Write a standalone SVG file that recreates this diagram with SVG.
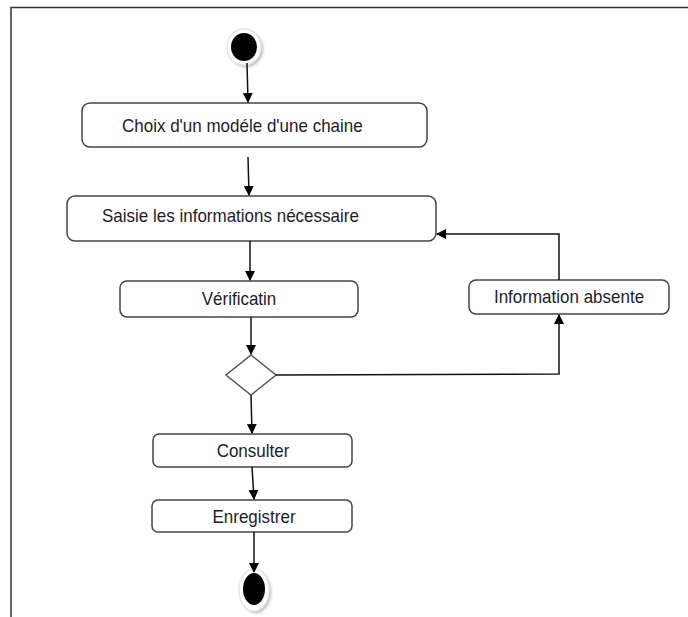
<svg xmlns="http://www.w3.org/2000/svg" width="688" height="617" viewBox="0 0 688 617">
  <defs>
    <marker id="arrow" markerWidth="10" markerHeight="10" refX="9" refY="5" orient="auto" markerUnits="userSpaceOnUse">
      <path d="M0,0 L10,5 L0,10 Z" fill="#000"/>
    </marker>
    <filter id="soft" x="-50%" y="-50%" width="200%" height="200%">
      <feGaussianBlur stdDeviation="1.5"/>
    </filter>
  </defs>
  <style>
    .box { fill: #fff; stroke: #444; stroke-width: 1.5; }
    .lbl { font-family: "Liberation Sans", Arial, sans-serif; font-size: 17px; fill: #1c1c2c; }
    .edge { fill: none; stroke: #111; stroke-width: 1.5; }
    .frame { fill: none; stroke: #333; stroke-width: 1.5; }
  </style>

  <rect width="688" height="617" fill="#fff"/>

  <!-- page frame -->
  <path class="frame" d="M11,617 L11,7.5 L688,7.5"/>

  <!-- start node -->
  <g id="start">
    <ellipse cx="246" cy="49" rx="17" ry="18" fill="#bbb" filter="url(#soft)"/>
    <ellipse cx="244" cy="47" rx="17" ry="18" fill="#fff" stroke="#e6e6e6" stroke-width="1.5"/>
    <ellipse cx="244" cy="47" rx="13" ry="14" fill="#000"/>
  </g>

  <!-- labels are drawn slightly tall: translate to the baseline, then stretch vertically -->
  <g id="choix">
    <rect class="box" x="82" y="103" width="345" height="44" rx="8"/>
    <text class="lbl" transform="translate(122,132) scale(1,1.1)" font-size="17.5">Choix d'un modéle d'une chaine</text>
  </g>

  <g id="saisie">
    <rect class="box" x="67" y="196" width="369" height="45" rx="8"/>
    <text class="lbl" transform="translate(102,222) scale(1,1.1)" font-size="17.5">Saisie les informations nécessaire</text>
  </g>

  <g id="verification">
    <rect class="box" x="120" y="281" width="238" height="36" rx="7"/>
    <text class="lbl" transform="translate(239,305) scale(1,1.1)" text-anchor="middle">Vérificatin</text>
  </g>

  <g id="absente">
    <rect class="box" x="469" y="280" width="200" height="34" rx="7"/>
    <text class="lbl" transform="translate(569,303) scale(1,1.1)" text-anchor="middle">Information absente</text>
  </g>

  <g id="decision">
    <path d="M251,355 L276,375 L251,395 L226,375 Z" fill="#fff" stroke="#555" stroke-width="1.5"/>
  </g>

  <g id="consulter">
    <rect class="box" x="153" y="434" width="199" height="33" rx="6"/>
    <text class="lbl" transform="translate(253,457) scale(1,1.1)" text-anchor="middle">Consulter</text>
  </g>

  <g id="enregistrer">
    <rect class="box" x="152" y="500" width="200" height="32" rx="6"/>
    <text class="lbl" transform="translate(254,523) scale(1,1.1)" text-anchor="middle">Enregistrer</text>
  </g>

  <!-- end node -->
  <g id="end">
    <ellipse cx="256" cy="592" rx="15" ry="21" fill="#bbb" filter="url(#soft)"/>
    <ellipse cx="254" cy="590" rx="15" ry="21" fill="#fff" stroke="#e6e6e6" stroke-width="1.5"/>
    <ellipse cx="254" cy="589" rx="11" ry="16" fill="#000"/>
  </g>

  <!-- connectors -->
  <g id="connectors">
    <path class="edge" d="M247,63 L248,102" marker-end="url(#arrow)"/>
    <path class="edge" d="M248,157 L249,195" marker-end="url(#arrow)"/>
    <path class="edge" d="M250,241 L250,280" marker-end="url(#arrow)"/>
    <path class="edge" d="M251,317 L251,354" marker-end="url(#arrow)"/>
    <path class="edge" d="M276,375 L559,374 L559,315" marker-end="url(#arrow)"/>
    <path class="edge" d="M559,280 L559,234 L437,234" marker-end="url(#arrow)"/>
    <path class="edge" d="M251,395 L252,433" marker-end="url(#arrow)"/>
    <path class="edge" d="M252,467 L254,499" marker-end="url(#arrow)"/>
    <path class="edge" d="M254,532 L254,572" marker-end="url(#arrow)"/>
  </g>
</svg>
